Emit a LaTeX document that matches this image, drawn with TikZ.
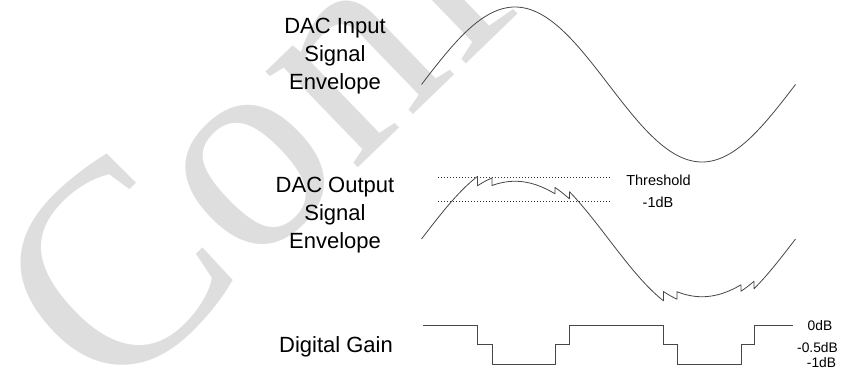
\documentclass[tikz,border=0pt]{standalone}
\usepackage{fontspec}
\setmainfont{Liberation Sans}
\newfontfamily\wmfont{Liberation Serif}
\begin{document}
\begin{tikzpicture}[x=1pt,y=-1pt,
  declare function={
    sx(\x)=sin(((\x-421.5)/374)*360);
    inp(\x)=84.5-77.5*sx(\x);
    outp(\x,\g)=239-77.5*\g*sx(\x);
  },
  wave/.style={draw=black!72, line width=0.8pt, line join=round},
  thr/.style={draw=black!80, line width=0.8pt, dash pattern=on 0.8pt off 2.2pt},
  biglabel/.style={font=\fontsize{22}{27.7}\selectfont, align=center, inner sep=0pt, anchor=base},
  smalllabel/.style={font=\fontsize{14.5}{16}\selectfont, inner sep=0pt, anchor=base},
  gainlabel/.style={font=\fontsize{13.8}{15}\selectfont, inner sep=0pt, anchor=base},
]
\useasboundingbox (0,0) rectangle (843,377);
% watermark
\begin{scope}
  \clip (0,0) rectangle (843,377);
  \node[rotate=44, anchor=base west, inner sep=0pt, text=black!13,
        font=\fontsize{290}{290}\wmfont] (wm) at (110,408) {Confidential};
\end{scope}

% labels (anchor = baseline of last line)
\node[biglabel] (lin) at (335,89.3) {DAC Input\\Signal\\Envelope};
\node[biglabel] (lout) at (335,248.3) {DAC Output\\Signal\\Envelope};
\node[biglabel] (lgain) at (336,352) {Digital Gain};

% input sine
\draw[wave] plot[domain=421.5:795.5, samples=120, smooth] (\x,{inp(\x)});

% threshold lines
\coordinate (t1a) at (438,177);
\coordinate (t1b) at (610,177);
\coordinate (t2a) at (438,201);
\coordinate (t2b) at (610,201);
\draw[thr] (t1a) -- (t1b);
\draw[thr] (t2a) -- (t2b);
\node[smalllabel] (thtxt) at (658.5,185) {Threshold};
\node[smalllabel] (m1txt) at (658,207) {-1dB};

% output envelope
\draw[wave]
  plot[domain=421.5:477.5, samples=25, smooth] (\x,{outp(\x,1)})
  -- plot[domain=477.5:492, samples=8, smooth] (\x,{outp(\x,0.85)})
  -- plot[domain=492:555, samples=30, smooth] (\x,{outp(\x,0.745)})
  -- plot[domain=555:569.5, samples=8, smooth] (\x,{outp(\x,0.85)})
  -- plot[domain=569.5:663.5, samples=40, smooth] (\x,{outp(\x,1)})
  -- plot[domain=663.5:677, samples=8, smooth] (\x,{outp(\x,0.85)})
  -- plot[domain=677:741, samples=30, smooth] (\x,{outp(\x,0.745)})
  -- plot[domain=741:754, samples=8, smooth] (\x,{outp(\x,0.85)})
  -- plot[domain=754:795.5, samples=20, smooth] (\x,{outp(\x,1)});

% digital gain staircase
\draw[wave, line join=miter] (423,325) -- (477.5,325) -- (477.5,344) -- (492,344) -- (492,364)
  -- (555,364) -- (555,344) -- (569.5,344) -- (569.5,325) -- (663.5,325)
  -- (663.5,344) -- (677,344) -- (677,364) -- (741,364) -- (741,344)
  -- (754,344) -- (754,325) -- (793,325);
\node[gainlabel] (g0) at (820,330) {0dB};
\node[gainlabel] (g05) at (817.5,352) {-0.5dB};
\node[gainlabel] (g1) at (821.5,367) {-1dB};
\end{tikzpicture}
\end{document}
